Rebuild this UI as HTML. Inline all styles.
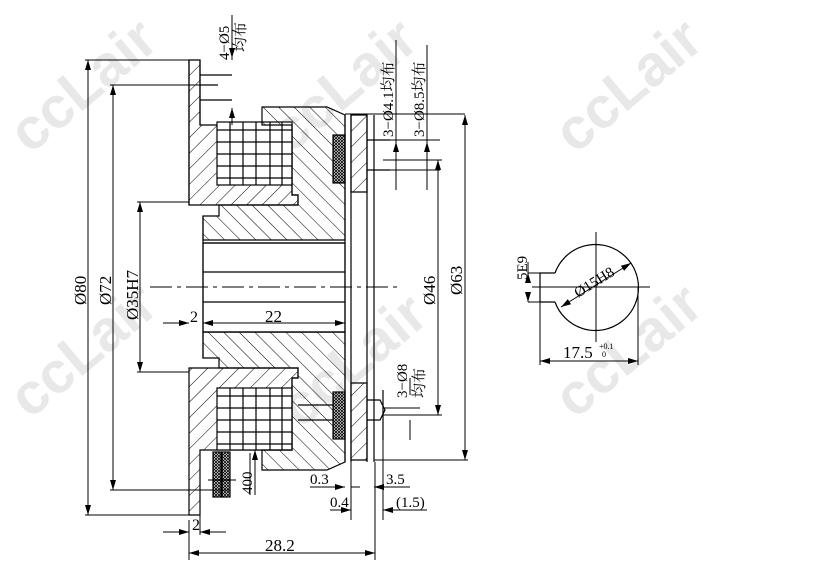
<!DOCTYPE html>
<html><head><meta charset="utf-8"><style>
html,body{margin:0;padding:0;background:#fff;width:817px;height:566px;overflow:hidden}
text{font-family:"Liberation Serif","Noto Serif CJK SC",serif;fill:#000}
.w{fill:#e8e8e8;font-family:"Liberation Sans",sans-serif;font-weight:bold;font-size:58px}
</style></head><body>
<svg width="817" height="566" viewBox="0 0 817 566" xmlns="http://www.w3.org/2000/svg">
<defs>
<pattern id="h" width="11" height="11" patternUnits="userSpaceOnUse" patternTransform="rotate(45)"><line x1="0" y1="0" x2="0" y2="11" stroke="#000" stroke-width="1"/></pattern>
<pattern id="h2" width="11" height="11" patternUnits="userSpaceOnUse" patternTransform="rotate(-45)"><line x1="0" y1="0" x2="0" y2="11" stroke="#000" stroke-width="1"/></pattern>
<pattern id="x" width="3" height="3" patternUnits="userSpaceOnUse"><rect width="3" height="3" fill="#fff"/><path d="M0 0L3 3M3 0L0 3" stroke="#000" stroke-width="0.8"/></pattern>
<marker id="a" markerWidth="10" markerHeight="6" refX="10" refY="3" orient="auto-start-reverse" markerUnits="userSpaceOnUse"><path d="M0 0L10 3L0 6z" fill="#000"/></marker>
</defs>
<text class="w" transform="translate(30,155) rotate(-40)">ccLair</text>
<text class="w" transform="translate(290,155) rotate(-40)">ccLair</text>
<text class="w" transform="translate(575,155) rotate(-40)">ccLair</text>
<text class="w" transform="translate(30,420) rotate(-40)">ccLair</text>
<text class="w" transform="translate(300,430) rotate(-40)">ccLair</text>
<text class="w" transform="translate(575,420) rotate(-40)">ccLair</text>
<g stroke="#000" stroke-width="1.2" fill="none">
<path d="M189 60H200V125H292V195H298V205H189Z" fill="url(#h)"/>
<rect x="217" y="122" width="75" height="63" fill="#fff"/>
<path d="M217 130H292M217 142H292M217 154H292M217 166H292M217 178H292M230 122V185M243 122V185M256 122V185M270 122V185M282 122V185"/>
<path d="M189 60V205M200 60V125"/>
<path d="M189 368H298V378H292V450H200V515H189Z" fill="url(#h)"/>
<rect x="217" y="388" width="75" height="62" fill="#fff"/>
<path d="M217 396H292M217 408H292M217 420H292M217 432H292M217 444H292M230 388V450M243 388V450M256 388V450M270 388V450M282 388V450"/>
<path d="M200 75H232M200 85H218M200 100H232"/>
<path d="M262 107H327L345 115V240H203V216H219V205H298V195H292V125H262Z" fill="url(#h2)"/>
<path d="M262 470H327L345 462V332H203V358H219V368H298V378H292V450H262Z" fill="url(#h2)"/>
<rect x="203" y="243" width="142" height="89" fill="#fff"/>
<path d="M203 243H345M203 272H345M203 302H345M203 332H345M203 216V358"/>
<rect x="333" y="135" width="12" height="48" fill="url(#x)"/>
<rect x="333" y="392" width="12" height="47" fill="url(#x)"/>
<path d="M351 115H367V192H351Z" fill="url(#h)"/>
<path d="M351 383H367V460H351Z" fill="url(#h)"/>
<path d="M345 115V462M351 115V462M367 115V462M374 115V462M383 390V440"/>
<path d="M367 140H390M367 170H390M367 400H380L385 410L380 420H367"/>
<path d="M298 420H333M298 405H333"/>
<path d="M150 287H400" stroke-dasharray="22 5 4 5" stroke-width="1"/>
<rect x="213" y="452" width="8" height="45" fill="url(#x)"/>
<rect x="222" y="452" width="8" height="45" fill="url(#x)"/>
<path d="M208 480H236M250 453V495" stroke-width="1"/>
</g>
<g stroke="#000" stroke-width="1" fill="none">
<path d="M88 60V515" marker-start="url(#a)" marker-end="url(#a)"/><path d="M85 60H189M85 515H189"/>
<path d="M113 85V490" marker-start="url(#a)" marker-end="url(#a)"/><path d="M110 85H218M110 490H230"/>
<path d="M140 202V372" marker-start="url(#a)" marker-end="url(#a)"/><path d="M137 202H189M137 372H189"/>
<path d="M232 15V60" /><path d="M232 45V58" marker-end="url(#a)"/><path d="M232 125V108" marker-end="url(#a)"/>
<path d="M396 40V190M427 45V190M345 114H465M390 140H440M390 170H440"/>
<path d="M396 155V142" marker-end="url(#a)"/><path d="M427 150V142" marker-end="url(#a)"/>
<path d="M438 160V415" marker-start="url(#a)" marker-end="url(#a)"/><path d="M383 160H442M383 415H442"/>
<path d="M465 115V460" marker-start="url(#a)" marker-end="url(#a)"/><path d="M374 460H468"/>
<path d="M410 395V378M410 420V440M383 408H420"/>
<path d="M189 520V560M375 462V560"/>
<path d="M189 553H375" marker-start="url(#a)" marker-end="url(#a)"/>
<path d="M163 532H189" marker-end="url(#a)"/><path d="M226 532H200" marker-end="url(#a)"/><path d="M200 515V535"/>
<path d="M163 323H189" marker-end="url(#a)"/><path d="M203 323H345" marker-start="url(#a)" marker-end="url(#a)"/>
<path d="M310 487H345" marker-end="url(#a)"/><path d="M351 487H360M374 487H410"/><path d="M395 487H374" marker-end="url(#a)"/>
<path d="M330 510H351" marker-end="url(#a)"/><path d="M383 510H427"/><path d="M395 510H383" marker-end="url(#a)"/>
<path d="M351 462V520M383 440V520"/>
<path d="M255 450V495" marker-start="url(#a)"/>
<path d="M532 287H650M596 232V342"/>
<path d="M555 273H540V302H555" stroke-width="1.2"/>
<path d="M555 273A43 43 0 1 1 555 302" stroke-width="1.2"/>
<path d="M528 273H540M528 302H540"/>
<path d="M528 262V273" /><path d="M528 278V273" marker-end="url(#a)"/><path d="M528 296V302" marker-end="url(#a)"/>
<path d="M540 302V365M638 287V365"/>
<path d="M540 361H638" marker-start="url(#a)" marker-end="url(#a)"/>
<path d="M561 307L631 263" marker-start="url(#a)" marker-end="url(#a)"/>
</g>
<g font-size="17">
<text transform="translate(86,305) rotate(-90)">Ø80</text>
<text transform="translate(111,305) rotate(-90)">Ø72</text>
<text transform="translate(138,320) rotate(-90)">Ø35H7</text>
<text transform="translate(435,305) rotate(-90)">Ø46</text>
<text transform="translate(462,295) rotate(-90)">Ø63</text>
<text transform="translate(229,60) rotate(-90)" font-size="15">4−Ø5</text>
<text transform="translate(245,52) rotate(-90)" font-size="15">均布</text>
<text transform="translate(393,137) rotate(-90)" font-size="15">3−Ø4.1均布</text>
<text transform="translate(424,137) rotate(-90)" font-size="15">3−Ø8.5均布</text>
<text transform="translate(407,398) rotate(-90)" font-size="15">3−Ø8</text>
<text transform="translate(424,398) rotate(-90)" font-size="15">均布</text>
<text transform="translate(252,494) rotate(-90)" font-size="15">400</text>
<text x="190" y="322" font-size="16">2</text>
<text x="265" y="322">22</text>
<text x="192" y="530" font-size="16">2</text>
<text x="265" y="551">28.2</text>
<text x="310" y="484" font-size="15">0.3</text>
<text x="386" y="484" font-size="15">3.5</text>
<text x="330" y="507" font-size="15">0.4</text>
<text x="396" y="507" font-size="15">(1.5)</text>
<text transform="translate(527,280) rotate(-90)" font-size="15">5E9</text>
<text transform="translate(578,298) rotate(-32)" font-size="15">Ø15H8</text>
<text x="563" y="358">17.5</text>
<text x="599" y="349" font-size="8">+0.1</text>
<text x="602" y="357" font-size="8">0</text>
</g>
</svg>
</body></html>
